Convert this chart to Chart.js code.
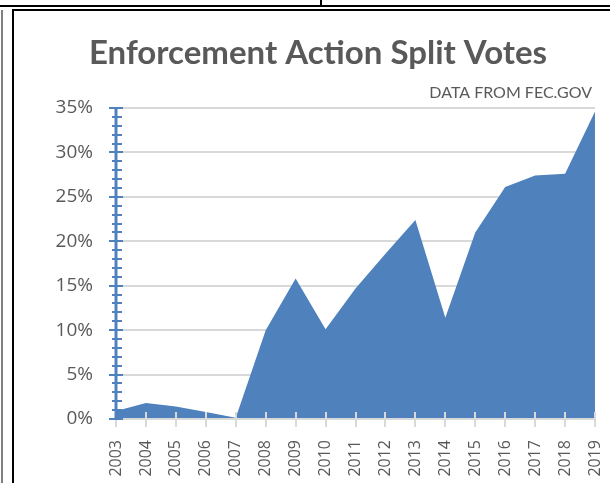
<!DOCTYPE html>
<html>
<head>
<meta charset="utf-8">
<script src="https://cdn.jsdelivr.net/npm/chart.js@4"></script>
<style>
  html, body { margin: 0; padding: 0; background: #fff; overflow: hidden; }
  #wrap { position: relative; width: 610px; height: 483px; }
  #grafica { position: absolute; left: 0; top: 0; }
  .ln { position: absolute; background: #000; z-index: 2; }
</style>
</head>
<body>
<div id="wrap">
  <div class="ln" style="left:0;top:5px;width:610px;height:2px"></div>
  <div class="ln" style="left:320px;top:0;width:2px;height:6px"></div>
  <div class="ln" style="left:12px;top:9px;width:598px;height:2px"></div>
  <div class="ln" style="left:1px;top:10px;width:2px;height:473px;background:#7f7f7f"></div>
  <div class="ln" style="left:12px;top:9px;width:2px;height:474px"></div>
  <canvas id="grafica" width="610" height="483"></canvas>
</div>
<script>
// datos
const years = ['2003', '2004', '2005', '2006', '2007', '2008', '2009', '2010', '2011',
  '2012', '2013', '2014', '2015', '2016', '2017', '2018', '2019']
const splitPct = [0.9, 1.8, 1.4, 0.8, 0.15, 10.0, 15.8, 10.1, 14.7,
  18.6, 22.4, 11.4, 21.0, 26.1, 27.4, 27.6, 34.6]
const titleText = 'Enforcement Action Split Votes'
const sourceText = 'DATA FROM FEC.GOV'

const BLUE = '#4f81bd'
const GRAY_TXT = '#595959'
const GRAY_LN = '#d9d9d9'
const FONT = "Lato, 'Open Sans', sans-serif"
const FONT_AX = "'Open Sans', sans-serif"

// titulo, subtitulo y marcas de eje estilo Excel
const excelAxes = {
  id: 'excelAxes',
  afterDatasetsDraw(chart) {
    const { ctx, chartArea, scales } = chart
    const x = scales.x, y = scales.y
    ctx.save()
    // eje x gris
    ctx.strokeStyle = GRAY_LN
    ctx.lineWidth = 2
    ctx.beginPath()
    ctx.moveTo(chartArea.left, chartArea.bottom)
    ctx.lineTo(chartArea.right, chartArea.bottom)
    ctx.stroke()
    x.ticks.forEach(function(t, i) {
      const px = Math.round(x.getPixelForTick(i))
      ctx.beginPath()
      ctx.moveTo(px, chartArea.bottom - 7)
      ctx.lineTo(px, chartArea.bottom + 8)
      ctx.stroke()
    })
    // eje y azul con marcas menores
    ctx.strokeStyle = BLUE
    ctx.lineWidth = 3
    ctx.beginPath()
    ctx.moveTo(chartArea.left, chartArea.top)
    ctx.lineTo(chartArea.left, chartArea.bottom + 1)
    ctx.stroke()
    ctx.lineWidth = 2
    y.ticks.forEach(function(t) {
      const py = Math.round(y.getPixelForValue(t.value))
      const major = t.value % 5 === 0
      ctx.beginPath()
      ctx.moveTo(chartArea.left - (major ? 7 : 4), py)
      ctx.lineTo(chartArea.left + (major ? 7 : 6), py)
      ctx.stroke()
    })
    // textos
    ctx.fillStyle = GRAY_TXT
    ctx.textBaseline = 'alphabetic'
    ctx.textAlign = 'center'
    ctx.font = 'bold 33px ' + FONT
    ctx.fillText(titleText, 318, 64)
    ctx.textAlign = 'right'
    ctx.font = '16px ' + FONT
    ctx.fillText(sourceText, 592, 98)
    ctx.restore()
  }
}

new Chart(document.getElementById('grafica'), {
  type: 'line',
  data: {
    labels: years,
    datasets: [{
      data: splitPct,
      fill: 'origin',
      backgroundColor: BLUE,
      borderWidth: 0,
      pointRadius: 0,
      tension: 0,
    }]
  },
  plugins: [excelAxes],
  options: {
    responsive: false,
    animation: false,
    layout: { padding: { top: 108, right: 15, bottom: 0, left: 0 } },
    plugins: { legend: { display: false }, tooltip: { enabled: false } },
    scales: {
      x: {
        offset: false,
        afterFit: function(s) { s.height = 64; s.paddingLeft = 0; s.paddingRight = 0 },
        grid: { display: false },
        border: { display: false },
        ticks: {
          color: GRAY_TXT, font: { family: FONT_AX, size: 16 },
          minRotation: 90, maxRotation: 90, autoSkip: false, padding: 13,
        }
      },
      y: {
        min: 0, max: 35,
        afterFit: function(s) { s.width = 116 },
        border: { display: false },
        grid: {
          drawTicks: false, lineWidth: 2,
          color: function(c) { return c.tick && c.tick.value % 5 === 0 ? GRAY_LN : 'rgba(0,0,0,0)' }
        },
        ticks: {
          stepSize: 1, autoSkip: false, padding: 23,
          color: GRAY_TXT, font: { family: FONT_AX, size: 19 },
          callback: function(v) { return v % 5 === 0 ? v + '%' : '' }
        }
      }
    }
  }
})
</script>
</body>
</html>
